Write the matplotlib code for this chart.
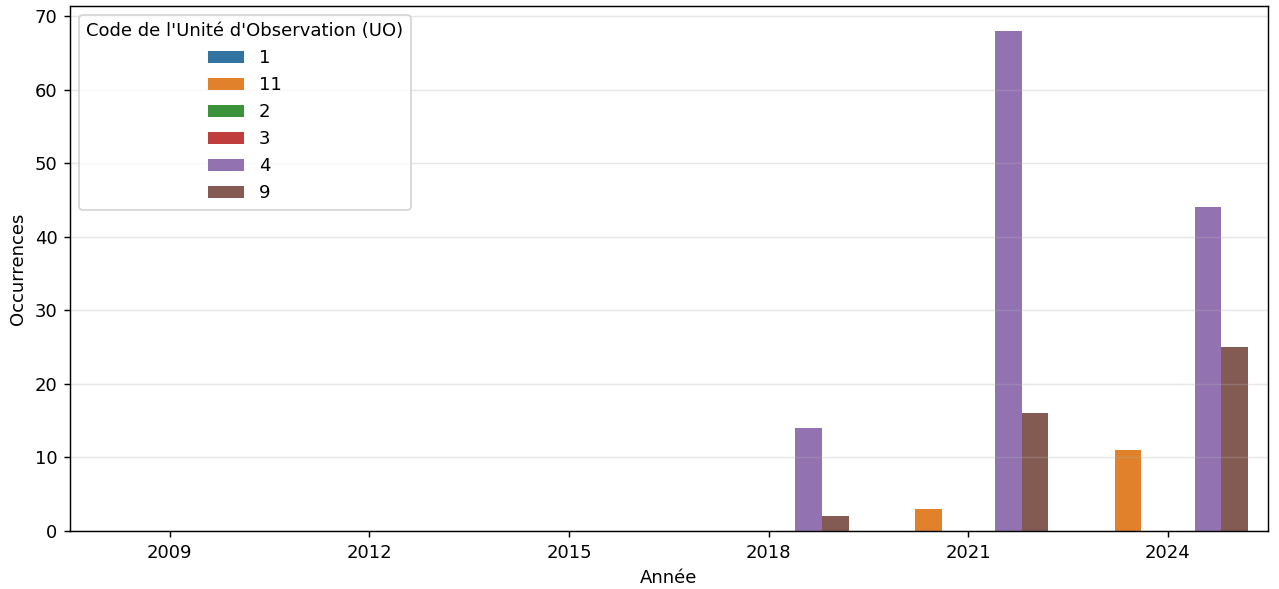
import matplotlib
matplotlib.use("Agg")
import matplotlib.pyplot as plt
import numpy as np

years = ['2009', '2012', '2015', '2018', '2021', '2024']
codes = ['1', '11', '2', '3', '4', '9']
counts_1 = [0, 0, 0, 0, 0, 0]
counts_11 = [0, 0, 0, 0, 3, 11]
counts_2 = [0, 0, 0, 0, 0, 0]
counts_3 = [0, 0, 0, 0, 0, 0]
counts_4 = [0, 0, 0, 14, 68, 44]
counts_9 = [0, 0, 0, 2, 16, 25]
series = [counts_1, counts_11, counts_2, counts_3, counts_4, counts_9]
colors = ['#3274a1', '#e1812c', '#3a923a', '#c03d3e', '#9372b2', '#845b53']

DPI = 130
fig = plt.figure(figsize=(1279 / DPI, 589 / DPI), dpi=DPI)
ax = fig.add_axes([0.0547, 0.0985, 0.9365, 0.8915])

n = len(codes)
w = 0.8 / n
x = np.arange(len(years))
for i, (code, vals, c) in enumerate(zip(codes, series, colors)):
    off = -0.4 + w * (i + 0.5)
    ax.bar(x + off, vals, width=w, color=c, label=code, linewidth=0)

ax.set_xlim(-0.5, len(years) - 0.5)
ax.set_xticks(x)
ax.set_xticklabels(years)
ax.set_ylim(0, max(max(s) for s in series) * 1.05)
ax.yaxis.grid(True, alpha=0.3)
ax.set_xlabel('Année')
ax.set_ylabel('Occurrences')
ax.legend(title="Code de l'Unité d'Observation (UO)", loc='upper left')

fig.savefig('out.png', dpi=DPI)
